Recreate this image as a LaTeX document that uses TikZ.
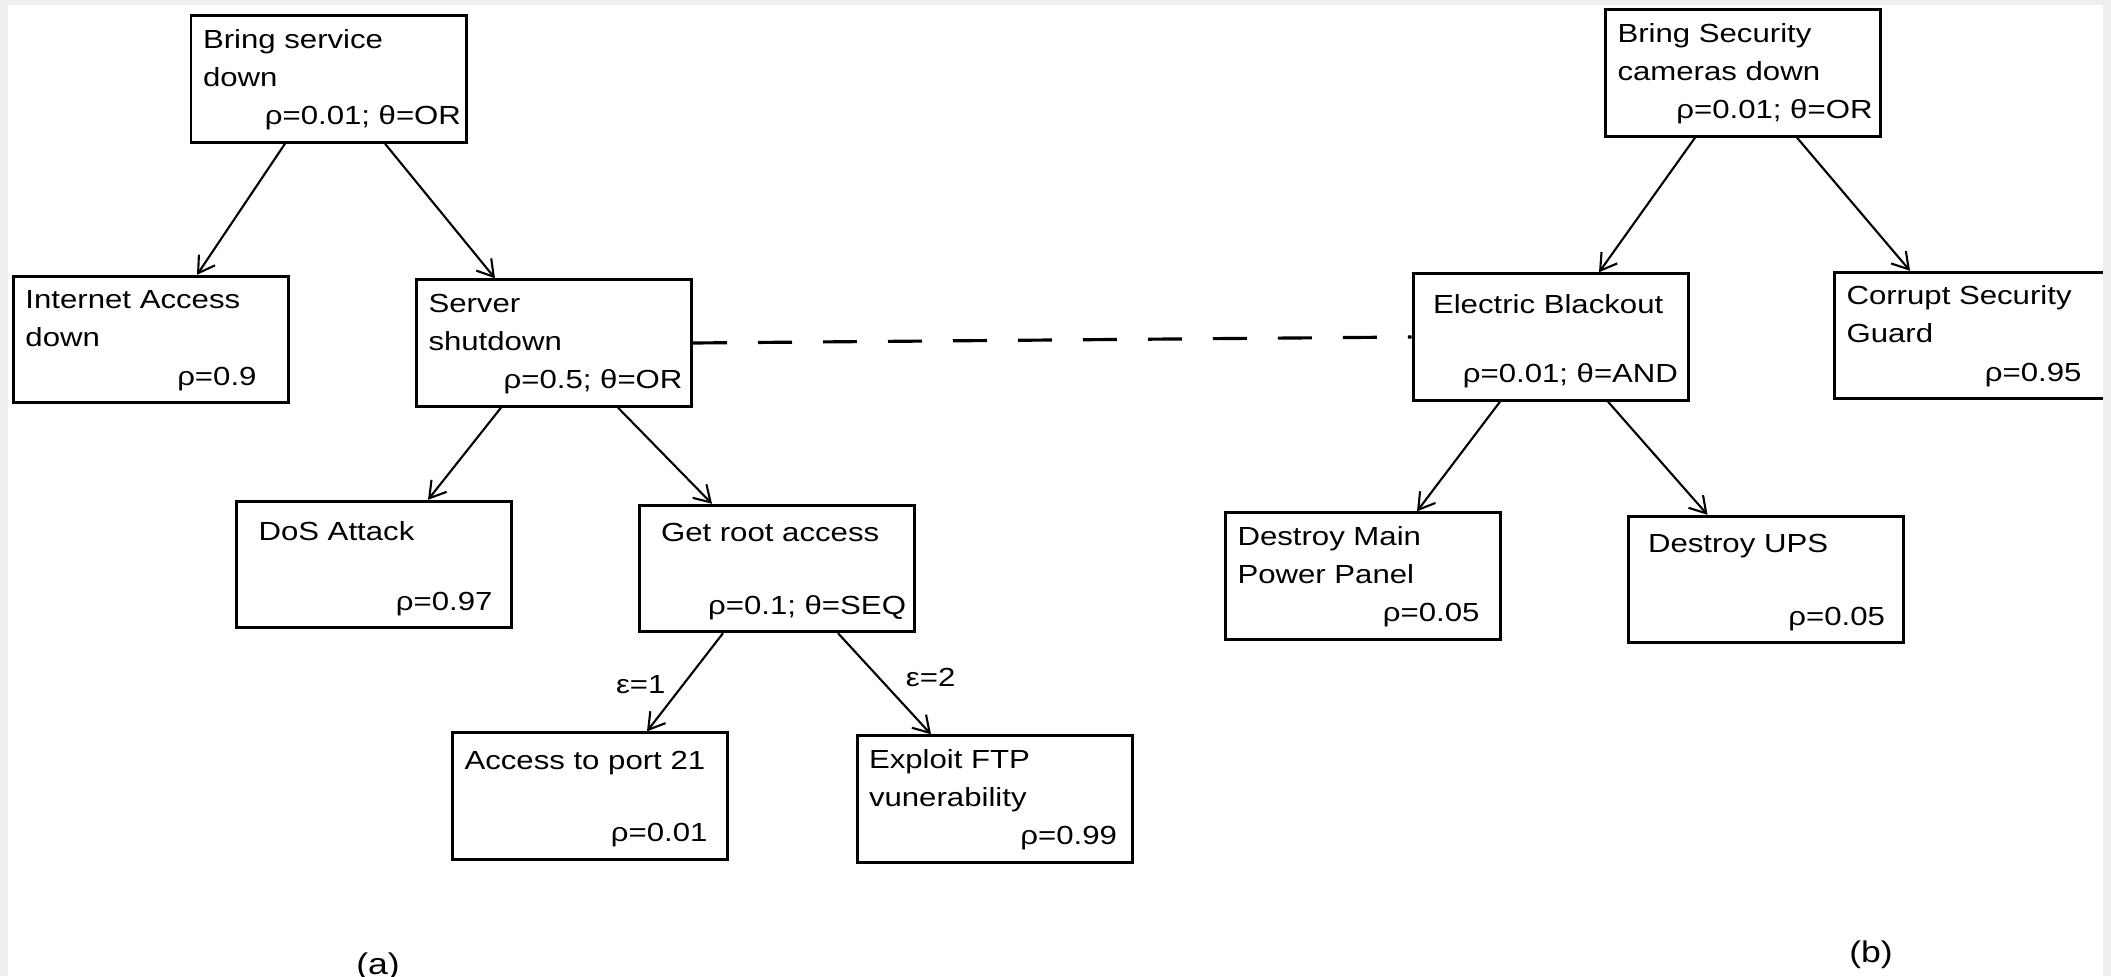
\documentclass[tikz,border=0pt]{standalone}
\usepackage{fontspec}
\setmainfont{Liberation Sans}[FakeStretch=1.19]
\usetikzlibrary{arrows.meta}
\definecolor{figM}{RGB}{238,238,238}
\newcommand{\attcell}[3][0cm]{\parbox[c][1.03cm][s]{2.51cm}{\raggedright\strut#2\strut\par\vfill{\raggedleft\strut#3\hspace*{#1}\strut\par}}}
\tikzset{
  att/.style={draw,line width=0.85pt,inner xsep=0.12cm,inner ysep=0.06cm,font=\fontsize{7.45}{10.8}\selectfont},
  arr/.style={-{Straight Barb[length=4.5pt,width=5.5pt]},line width=0.6pt},
  elab/.style={inner sep=0pt,font=\fontsize{7.45}{10.8}\selectfont},
  sub/.style={inner sep=0pt,font=\fontsize{8.5}{10}\selectfont}
}
\begin{document}
\begin{tikzpicture}
\useasboundingbox (0,0) rectangle (21.11,-9.76);
\fill[figM] (0,0) rectangle (21.11,-9.76);
\fill[white] (0.08,-0.05) rectangle (21.03,-9.76);
% (a) server tree
\node[att] (rootA) at (3.285,-0.79) {\attcell[-0.07cm]{Bring service\\down}{ρ=0.01; θ=OR}};
\node[att] (inet) at (1.51,-3.395) {\attcell[0.2cm]{Internet Access\\down}{ρ=0.9}};
\node[att] (server) at (5.54,-3.43) {\attcell[-0.03cm]{Server\\shutdown}{ρ=0.5; θ=OR}};
\node[att] (dos) at (3.74,-5.645) {\attcell[0.07cm]{\hspace*{0.1cm}\raisebox{-0.07cm}{DoS Attack}}{ρ=0.97}};
\node[att] (root) at (7.765,-5.685) {\attcell[-0.04cm]{\hspace*{0.1cm}\raisebox{-0.04cm}{Get root access}}{ρ=0.1; θ=SEQ}};
\node[att] (port) at (5.90,-7.96) {\attcell[0.08cm]{\raisebox{-0.04cm}{Access to port 21}}{ρ=0.01}};
\node[att] (ftp) at (9.945,-7.99) {\attcell[0.03cm]{Exploit FTP\\vunerability}{ρ=0.99}};
\draw[arr] ([xshift=-0.435cm]rootA.south) -- ([xshift=0.46cm]inet.north);
\draw[arr] ([xshift=0.565cm]rootA.south) -- ([xshift=-0.59cm]server.north);
\draw[arr] ([xshift=-0.53cm]server.south) -- ([xshift=0.54cm]dos.north);
\draw[arr] ([xshift=0.64cm]server.south) -- ([xshift=-0.645cm]root.north);
\draw[arr] ([xshift=-0.535cm]root.south) -- node[elab,pos=0.52,left=0.17cm] (eps1) {ε=1} ([xshift=0.57cm]port.north);
\draw[arr] ([xshift=0.615cm]root.south) -- node[elab,pos=0.44,right=0.26cm] (eps2) {ε=2} ([xshift=-0.635cm]ftp.north);
% (b) camera tree
\node[att] (rootB) at (17.43,-0.73) {\attcell[-0.04cm]{Bring Security\\cameras down}{ρ=0.01; θ=OR}};
\node[att] (elec) at (15.505,-3.37) {\attcell[-0.02cm]{\hspace*{0.08cm}\raisebox{-0.07cm}{Electric Blackout}}{ρ=0.01; θ=AND}};
\node[att] (guard) at (19.72,-3.355) {\attcell[0.16cm]{Corrupt Security\\Guard}{ρ=0.95}};
\node[att] (panel) at (13.63,-5.76) {\attcell[0.09cm]{Destroy Main\\Power Panel}{ρ=0.05}};
\node[att] (ups) at (17.655,-5.795) {\attcell[0.06cm]{\hspace*{0.08cm}\raisebox{-0.04cm}{Destroy UPS}}{ρ=0.05}};
\draw[arr] ([xshift=-0.48cm]rootB.south) -- ([xshift=0.485cm]elec.north);
\draw[arr] ([xshift=0.54cm]rootB.south) -- ([xshift=-0.62cm]guard.north);
\draw[arr] ([xshift=-0.505cm]elec.south) -- ([xshift=0.54cm]panel.north);
\draw[arr] ([xshift=0.575cm]elec.south) -- ([xshift=-0.58cm]ups.north);
% link between the trees
\draw[line width=0.9pt,dash pattern=on 0.34cm off 0.31cm] (server.east) -- (elec.west);
\node[sub] (capA) at (3.78,-9.67) {(a)};
\node[sub] (capB) at (18.71,-9.55) {(b)};
\fill[figM] (21.03,0) rectangle (21.11,-9.76);
\end{tikzpicture}
\end{document}
